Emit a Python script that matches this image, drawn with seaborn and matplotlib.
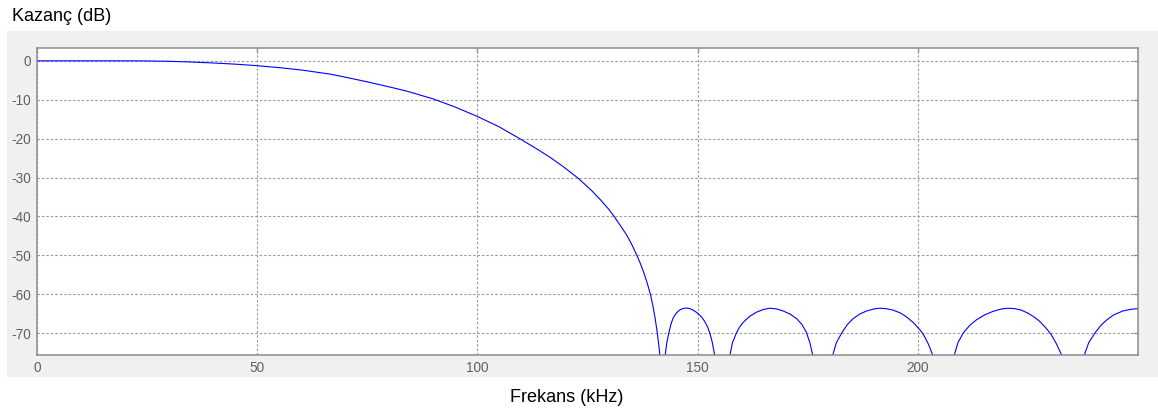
import matplotlib
matplotlib.use("Agg")
import matplotlib.pyplot as plt
from matplotlib.patches import Rectangle
import seaborn as sns
import pandas as pd

# Frequency (kHz) and gain (dB)
freq_khz = [0, 10, 20, 25, 30, 35, 40, 45, 50, 55, 60, 66.5, 70, 75, 80, 84, 90, 95,
            100, 105, 109.6, 113, 116.5, 119.5, 122.9, 125.9, 128, 129.7, 130.8,
            132.5, 133.9, 135, 136.1, 137, 137.8, 138.6, 139.3, 139.8, 140.3,
            140.8, 141.2, 141.6, 142.1,
            142.6, 143, 143.5, 144, 144.5, 145.2, 146, 146.8, 147.5, 148.2, 149,
            149.8, 150.5, 151.2, 151.7, 152.3, 152.8, 153.3, 153.9, 155.6,
            157.3, 157.9, 158.8, 159.5, 160.3, 161.8, 163.4, 165, 166.4, 168,
            169.4, 171, 172.5, 173.7, 174.7, 175.5, 176.2, 178.4,
            180.6, 181.5, 182.7, 184, 185.3, 186.8, 188.4, 190, 191.4, 193, 194.4,
            196, 197.4, 199, 200.5, 201.2, 202.4, 203.5, 205.9,
            208.2, 209.1, 210.3, 211.8, 213.3, 215.2, 217.1, 219, 220.5, 222,
            223.5, 224.9, 226.2, 227.5, 228.8, 230.2, 231.5, 232.8, 235.2,
            237.7, 238.8, 240.2, 241.5, 242.8, 244.5, 246.6, 248.3, 250]
gain_db = [0, 0, 0, -0.03, -0.12, -0.3, -0.55, -0.85, -1.25, -1.75, -2.35, -3.4,
           -4.2, -5.4, -6.7, -7.8, -9.8, -11.9,
           -14.3, -17.0, -20.0, -22.3, -24.8, -27.2, -30.2, -33.3, -35.8, -38.0,
           -39.6, -42.4, -44.8, -47.1, -49.7, -52.1, -54.5, -57.3, -60.1, -62.7,
           -65.8, -69.5, -73.2, -77.5, -100.0,
           -76.0, -72.5, -69.8, -67.5, -66.0, -64.8, -64.0, -63.65, -63.55, -63.7,
           -64.1, -64.7, -65.4, -66.3, -67.2, -68.5, -70.1, -72.2, -75.8, -100.0,
           -76.0, -72.5, -70.0, -68.5, -67.3, -65.7, -64.6, -63.9, -63.6, -63.8,
           -64.3, -65.1, -66.3, -67.8, -69.8, -72.5, -76.0, -100.0,
           -76.0, -72.5, -70.0, -67.8, -66.3, -65.1, -64.3, -63.8, -63.6, -63.75,
           -64.1, -64.8, -65.8, -67.3, -69.2, -70.2, -72.8, -76.0, -100.0,
           -76.0, -72.5, -70.0, -68.0, -66.6, -65.3, -64.4, -63.8, -63.6, -63.7,
           -64.1, -64.8, -65.7, -66.8, -68.3, -70.2, -72.8, -76.0, -100.0,
           -76.0, -72.5, -70.0, -68.1, -66.7, -65.3, -64.3, -63.9, -63.7]

x_ticks = [0, 50, 100, 150, 200]
y_ticks = [0, -10, -20, -30, -40, -50, -60, -70]
title_text = "Kazanç (dB)"
xlabel_text = "Frekans (kHz)"

sns.set_style("white")
plt.rcParams['font.family'] = ['Liberation Sans', 'DejaVu Sans']

W, H = 1158, 415
fig = plt.figure(figsize=(W / 100, H / 100), dpi=100)
fig.patch.set_facecolor("white")

# gray panel behind the axes
panel = Rectangle((7 / W, 1 - 376.5 / H), 1 - 7 / W, (376.5 - 31) / H,
                  transform=fig.transFigure, facecolor="#f0f0f0",
                  edgecolor="none", zorder=-10)
fig.patches.append(panel)

ax = fig.add_axes([37 / W, 1 - 354.5 / H, (1138 - 37) / W, (354.5 - 48) / H])
ax.set_facecolor("white")

df = pd.DataFrame({"f": freq_khz, "g": gain_db})
sns.lineplot(data=df, x="f", y="g", ax=ax, color="#0000ff", linewidth=0.8,
             estimator=None, sort=False)

ax.set_xlim(0, 250)
ax.set_ylim(-75.5, 3.3)
ax.set_xticks(x_ticks)
ax.set_yticks(y_ticks)
ax.set_xticklabels([str(t) for t in x_ticks])
ax.set_yticklabels([str(t) for t in y_ticks])
ax.set_xlabel("")
ax.set_ylabel("")

ax.grid(True, color="#9a9a9a", linestyle=(0, (2.2, 1.8)), linewidth=0.8)
ax.set_axisbelow(True)
for s in ax.spines.values():
    s.set_color("#8c8c8c")
    s.set_linewidth(1.1)
    s.set_visible(True)

ax.tick_params(axis="both", direction="in", length=3.6, width=0.9,
               color="#8c8c8c", labelcolor="#606060", labelsize=9.8,
               top=True, right=True)
ax.tick_params(axis="x", pad=4.5)
ax.tick_params(axis="y", pad=4.3)

fig.text(12 / W, 1 - 20.7 / H, title_text, ha="left", va="baseline",
         fontsize=13, color="black")
fig.text(567 / W, 1 - 402 / H, xlabel_text, ha="center", va="baseline",
         fontsize=13, color="black")

fig.savefig("out.png", dpi=100)
